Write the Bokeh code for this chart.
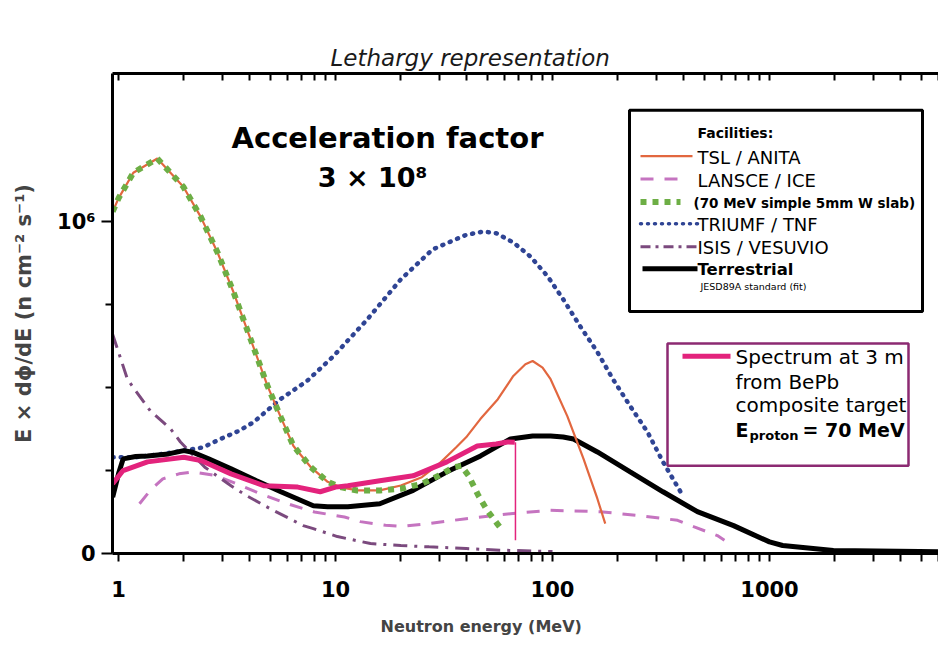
from bokeh.plotting import figure
from bokeh.models import Range1d, FixedTicker, LogAxis, Label, BoxAnnotation, Title
from bokeh.embed import file_html
from bokeh.resources import INLINE

# ---------------- data (E in MeV, flux in units of 10^6 n cm^-2 s^-1) ----------------
tsl_e = [0.94, 1.0, 1.17, 1.51, 1.99, 2.39, 2.86, 3.39, 4.06, 4.86, 5.6, 6.4, 7.7, 9.2, 10.5,
         12.6, 16, 20, 25, 30, 36, 40, 46.5, 56, 66, 75, 81, 90, 98, 117, 139, 161, 175]
tsl_y = [1.03, 1.07, 1.147, 1.19, 1.105, 1.015, 0.907, 0.787, 0.646, 0.505, 0.41, 0.324, 0.26, 0.216, 0.2,
         0.19, 0.19, 0.205, 0.23, 0.27, 0.32, 0.35, 0.405, 0.465, 0.535, 0.57, 0.58, 0.56, 0.525, 0.414, 0.285, 0.165, 0.09]

wslab_e = [0.94, 1.0, 1.17, 1.51, 1.99, 2.39, 2.86, 3.39, 4.06, 4.86, 5.6, 6.4, 7.7, 9.2, 10.5,
           12.6, 16, 20, 25, 30, 35, 38, 41, 45.6, 50, 55.6, 58]
wslab_y = [1.03, 1.07, 1.147, 1.19, 1.105, 1.015, 0.907, 0.787, 0.646, 0.505, 0.41, 0.324, 0.26, 0.216, 0.2,
           0.19, 0.19, 0.195, 0.21, 0.235, 0.26, 0.264, 0.235, 0.174, 0.13, 0.09, 0.075]

lansce_e = [1.25, 1.4, 1.6, 1.9, 2.2, 2.8, 3.5, 4.5, 6, 8, 11, 13, 17, 20, 27, 40, 64, 98, 166, 254, 377, 450, 575, 620]
lansce_y = [0.15, 0.19, 0.225, 0.24, 0.246, 0.235, 0.21, 0.18, 0.15, 0.125, 0.11, 0.096, 0.085, 0.082, 0.09,
            0.105, 0.12, 0.13, 0.126, 0.114, 0.1, 0.08, 0.054, 0.04]

triumf_e = [0.94, 1.2, 1.6, 2.0, 2.46, 2.95, 3.6, 4.2, 5.57, 7.4, 9.8, 14, 20, 28, 40, 48, 55, 66, 79, 95,
            112, 134, 161, 190, 228, 274, 323, 389]
triumf_y = [0.29, 0.29, 0.3, 0.31, 0.32, 0.345, 0.37, 0.396, 0.465, 0.52, 0.595, 0.705, 0.826, 0.916, 0.96,
            0.97, 0.965, 0.937, 0.895, 0.835, 0.766, 0.685, 0.607, 0.525, 0.444, 0.366, 0.276, 0.186]

isis_e = [0.94, 1.1, 1.17, 1.4, 1.74, 1.93, 2.5, 3.3, 3.9, 5, 7.1, 7.9, 10.2, 14.5, 20, 27, 40, 57, 100]
isis_y = [0.66, 0.525, 0.5, 0.43, 0.375, 0.336, 0.26, 0.204, 0.174, 0.135, 0.084, 0.075, 0.051, 0.03, 0.024,
          0.02, 0.015, 0.01, 0.006]

terr_e = [0.94, 1.0, 1.05, 1.2, 1.36, 1.7, 2.0, 2.2, 2.6, 3.3, 4.3, 5.6, 7.9, 9.2, 11.4, 16, 22.8, 32.6, 46.6,
          64, 81, 98, 112, 125, 161, 228, 323, 465, 683, 1000, 1150, 1970, 4900, 6000]
terr_y = [0.17, 0.24, 0.285, 0.292, 0.294, 0.3, 0.31, 0.305, 0.285, 0.255, 0.22, 0.186, 0.144, 0.141, 0.141,
          0.15, 0.19, 0.246, 0.294, 0.345, 0.354, 0.354, 0.351, 0.345, 0.306, 0.246, 0.186, 0.126, 0.084,
          0.035, 0.024, 0.009, 0.006, 0.005]

bepb_e = [0.94, 1.05, 1.36, 2.0, 2.4, 3.3, 4.7, 6.7, 8.5, 10, 11.4, 16, 22.8, 32.6, 45, 55, 62, 67]
bepb_y = [0.21, 0.25, 0.276, 0.29, 0.28, 0.24, 0.204, 0.2, 0.186, 0.2, 0.204, 0.219, 0.234, 0.276, 0.324,
          0.33, 0.336, 0.335]
bepb_drop_e = [67.5, 67.5]
bepb_drop_y = [0.335, 0.04]

x_major = [1, 10, 100, 1000]
x_minor = [m * d for d in [1, 10, 100, 1000] for m in range(2, 10)]
x_labels = {1: "1", 10: "10", 100: "100", 1000: "1000"}
y_major = [0, 1]
y_minor = [0.25, 0.5, 0.75]
y_labels = {0: "0", 1: "10⁶"}

# ---------------- colours ----------------
C_TSL = "#e2673f"
C_LANSCE = "#c574c0"
C_WSLAB = "#6dae45"
C_TRIUMF = "#2f4494"
C_ISIS = "#7b4a7e"
C_TERR = "#000000"
C_BEPB = "#e3237c"
C_BOX2 = "#8c2a72"
FONT = "DejaVu Sans"

# page pixel -> data helpers (for annotation placement only)
def X(px):
    return 10 ** ((px - 118) / 217.0)

def Y(py):
    return (555 - py) / 333.3

p = figure(width=938, height=650, x_axis_type="log",
           x_range=Range1d(X(112), X(938)), y_range=Range1d(0, Y(73)),
           output_backend="svg", toolbar_location=None,
           min_border_left=112, min_border_right=0, min_border_top=73, min_border_bottom=95)
p.outline_line_color = None
p.grid.visible = False
p.background_fill_color = "white"
p.border_fill_color = "white"

p.title.text = "Lethargy representation"
p.title.align = "left"
p.title.offset = 218
p.title.text_font = FONT
p.title.text_font_style = "italic"
p.title.text_font_size = "23px"
p.title.text_color = "#1a1a1a"
p.title.standoff = 5

xa = p.xaxis[0]
xa.ticker = FixedTicker(ticks=x_major, minor_ticks=x_minor)
xa.major_label_overrides = x_labels
xa.axis_line_width = 3
xa.major_tick_line_width = 2
xa.minor_tick_line_width = 2
xa.major_tick_out = 8
xa.major_tick_in = 0
xa.minor_tick_out = 8
xa.minor_tick_in = 0
xa.major_label_text_font = FONT
xa.major_label_text_font_style = "bold"
xa.major_label_text_font_size = "21px"
xa.major_label_text_color = "black"
xa.major_label_standoff = 19

p.add_layout(Title(text="Neutron energy (MeV)", align="left", offset=268,
                   text_font=FONT, text_font_style="bold", text_font_size="16px",
                   standoff=30), "below")

ya = p.yaxis[0]
ya.ticker = FixedTicker(ticks=y_major, minor_ticks=y_minor)
ya.major_label_overrides = y_labels
ya.axis_line_width = 3
ya.major_tick_line_width = 2
ya.minor_tick_line_width = 2
ya.major_tick_out = 11
ya.major_tick_in = 0
ya.minor_tick_out = 7
ya.minor_tick_in = 0
ya.major_label_text_font = FONT
ya.major_label_text_font_style = "bold"
ya.major_label_text_font_size = "21px"
ya.major_label_text_color = "black"
ya.major_label_standoff = 6
ya.axis_label = "E × dϕ/dE (n cm⁻² s⁻¹)"
ya.axis_label_text_font = FONT
ya.axis_label_text_font_style = "bold"
ya.axis_label_text_font_size = "21px"
ya.axis_label_standoff = 18

top = LogAxis(ticker=FixedTicker(ticks=x_major, minor_ticks=x_minor),
              major_label_overrides={t: "" for t in x_major},
              major_label_text_font_size="1px", major_label_standoff=0,
              axis_line_width=3, major_tick_line_width=2, minor_tick_line_width=2,
              major_tick_in=7, major_tick_out=0, minor_tick_in=7, minor_tick_out=0)
p.add_layout(top, "above")

# ---------------- boxes (underlay) ----------------
p.add_layout(BoxAnnotation(left=X(629), right=X(922), top=Y(110), bottom=Y(312),
                           fill_color="white", fill_alpha=1, line_color="black", line_alpha=1,
                           line_width=3, level="underlay"))
p.add_layout(BoxAnnotation(left=X(667), right=X(908), top=Y(344), bottom=Y(467),
                           fill_color="white", fill_alpha=1, line_color=C_BOX2, line_alpha=1,
                           line_width=2.5, level="underlay"))

# ---------------- curves ----------------
p.line(lansce_e, lansce_y, line_color=C_LANSCE, line_width=3, line_dash="13 11")
p.line(isis_e, isis_y, line_color=C_ISIS, line_width=3, line_dash="14 7 3 7")
p.line(triumf_e, triumf_y, line_color=C_TRIUMF, line_width=4.5, line_dash="1 7", line_cap="round")
p.line(terr_e, terr_y, line_color=C_TERR, line_width=5)
p.line(tsl_e, tsl_y, line_color=C_TSL, line_width=2.2)
p.line(wslab_e, wslab_y, line_color=C_WSLAB, line_width=6, line_dash="6 6")
p.line(bepb_e, bepb_y, line_color=C_BEPB, line_width=5)
p.line(bepb_drop_e, bepb_drop_y, line_color=C_BEPB, line_width=1.5)

# ---------------- legend samples ----------------
def sample(y_px, color, width, dash="solid", cap="butt", x0=640, x1=692):
    p.line([X(x0), X(x1)], [Y(y_px), Y(y_px)], line_color=color, line_width=width,
           line_dash=dash, line_cap=cap)

sample(156, C_TSL, 2.2)
sample(179, C_LANSCE, 3, "13 11", x1=680)
sample(202, C_WSLAB, 6, "6 6", x1=680)
sample(224, C_TRIUMF, 3.5, "1 6", "round", x1=697)
sample(247, C_ISIS, 3, "10 5 3 5", x1=697)
sample(269, C_TERR, 5, x0=642, x1=697)
sample(357, C_BEPB, 5, x0=682, x1=730)

def label(px, py, text, size, style="normal", align="left", color="black"):
    p.add_layout(Label(x=X(px), y=Y(py), text=text, text_font=FONT, text_font_size=size,
                       text_font_style=style, text_align=align, text_baseline="middle",
                       text_color=color))

label(697, 133, "Facilities:", "14px", "bold")
label(697, 157, "TSL / ANITA", "18px")
label(697, 180, "LANSCE / ICE", "18px")
label(693, 203, "(70 MeV simple 5mm W slab)", "13.5px", "bold")
label(697, 225, "TRIUMF / TNF", "18px")
label(697, 248, "ISIS / VESUVIO", "18px")
label(697, 270, "Terrestrial", "16.5px", "bold")
label(700, 287, "JESD89A standard (fit)", "9.5px")

label(735, 358, "Spectrum at 3 m", "20px")
label(735, 383, "from BePb", "20px")
label(735, 406, "composite target", "20px")
label(735, 431, "E", "19px", "bold")
label(749, 437, "proton", "13px", "bold")
label(802, 431, "= 70 MeV", "19px", "bold")

label(387, 138, "Acceleration factor", "29px", "bold", "center")
label(372, 177, "3 × 10⁸", "27px", "bold", "center")

open("out.html", "w").write(file_html(p, INLINE))
